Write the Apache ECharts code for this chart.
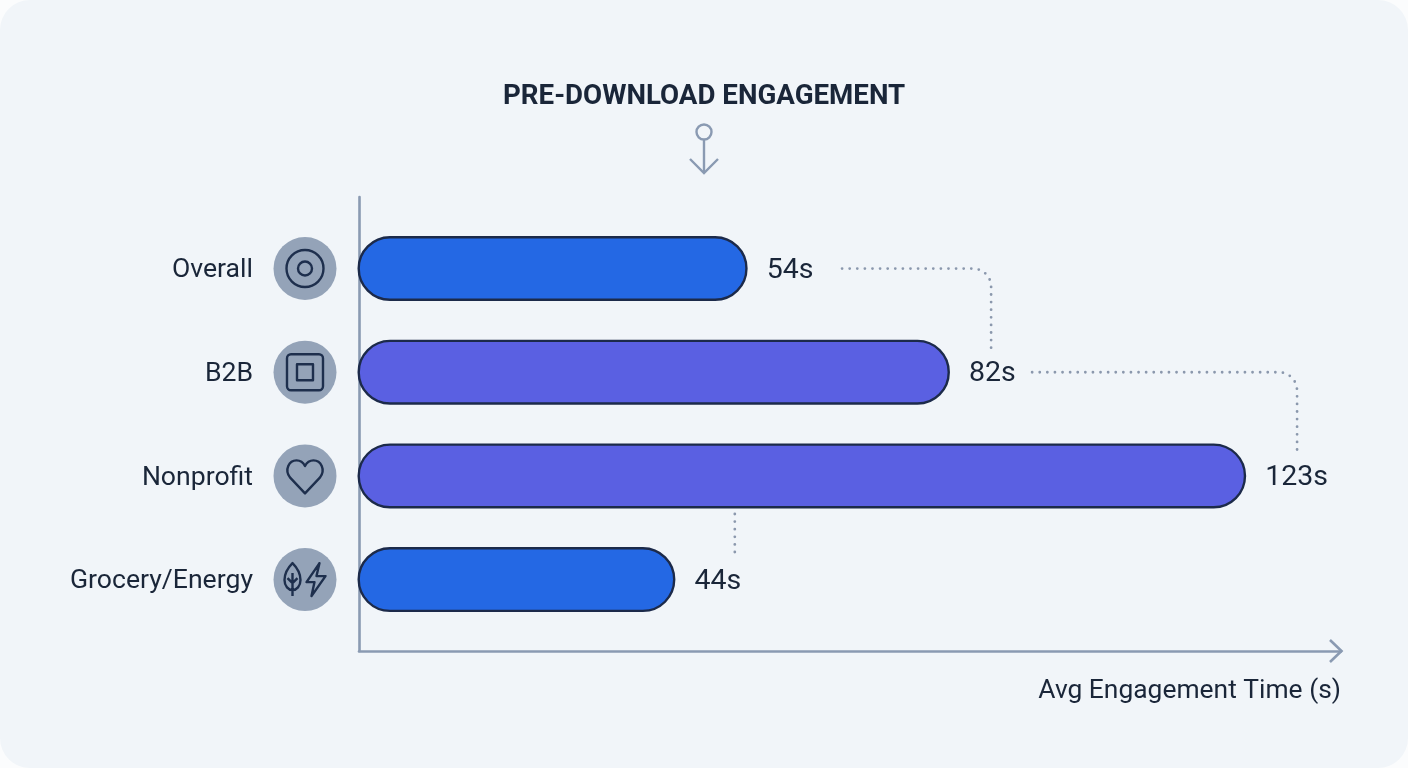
<!DOCTYPE html>
<html>
<head>
<meta charset="utf-8">
<style>
  html, body { margin: 0; padding: 0; width: 100%; height: 100%; background: #fbfcfd; overflow: hidden; }
  #panel { position: absolute; left: 0; top: 0; width: 1408px; height: 768px; background: #f1f5f9; border-radius: 30px; }
  #chart { width: 1408px; height: 768px; }
</style>
<script src="https://cdn.jsdelivr.net/npm/echarts@6/dist/echarts.min.js"></script>
</head>
<body>
<div id="panel"><div id="chart"></div></div>
<script>
const categories = ['Overall', 'B2B', 'Nonprofit', 'Grocery/Energy']
const values = [54, 82, 123, 44]
const barColors = ['#2468e4', '#5a60e2', '#5a60e2', '#2468e4']
const iconNames = ['target', 'square', 'heart', 'leafBolt']

// dotted connectors, x in seconds, y in rows (0 = centre of first bar)
const connectorX = [[67.1, 87.8, 87.8], [93.5, 130.3, 130.3], [52.2, 52.2]]
const connectorY = [[0, 0, 0.82], [1, 1, 1.79], [2.367, 2.8]]

const xMax = 136.4
const ink = '#1a2639'
const iconInk = '#1e2f4d'
const axisGrey = '#8a9ab2'
const font = 'Roboto'

// icon outlines, scaled into the box given in iconBoxes
const iconPaths = {
  square: 'M6 2H34A4 4 0 0 1 38 6V34A4 4 0 0 1 34 38H6A4 4 0 0 1 2 34V6A4 4 0 0 1 6 2ZM12 12H28V28H12Z',
  heart: 'M20 38L4 21C-2 13 3 3 11 3C15 3 18 5 20 9C22 5 25 3 29 3C37 3 42 13 36 21Z',
  leafBolt: 'M8 0C2 6 0 11 0 17C0 23 4 27 8 27C12 27 16 23 16 17C16 11 14 6 8 0ZM8 10V33M8 20L3 15M8 20L13 15M35 0L22 19H30L27 33L41 13H32Z'
}
const iconBoxes = { square: [36, 36, 0], heart: [37, 33, 1], leafBolt: [41, 33, 0] }

function renderBadge(params, api) {
  const c = api.coord([0, api.value(0)])
  const cx = c[0] - 52.5
  const name = iconNames[api.value(0)]
  const lineStyle = { fill: 'none', stroke: iconInk, lineWidth: 2.4, lineJoin: 'round' }
  const children = [{ type: 'circle', shape: { cx, cy: c[1], r: 31.5 }, style: { fill: '#94a3b8' } }]
  if (name === 'target') {
    children.push({ type: 'circle', shape: { cx, cy: c[1], r: 18.5 }, style: lineStyle })
    children.push({ type: 'circle', shape: { cx, cy: c[1], r: 7 }, style: lineStyle })
  } else {
    const box = iconBoxes[name]
    children.push({
      type: 'path',
      shape: { pathData: iconPaths[name], x: cx - box[0] / 2, y: c[1] - box[1] / 2 + box[2], width: box[0], height: box[1] },
      style: lineStyle
    })
  }
  return { type: 'group', children }
}

function renderConnector(params, api) {
  const i = api.value(0)
  const pts = connectorX[i].map((x, k) => api.coord([x, connectorY[i][k]]))
  let points = pts
  if (pts.length === 3) {
    // round off the corner
    const r = 18, a = pts[0], b = pts[1], c = pts[2]
    points = [a]
    for (let t = 0; t <= 1.001; t += 0.125) {
      const ang = t * Math.PI / 2
      points.push([b[0] - r + r * Math.sin(ang), b[1] + r - r * Math.cos(ang)])
    }
    points.push(c)
  }
  return {
    type: 'polyline',
    shape: { points },
    style: { fill: 'none', stroke: '#8b98ad', lineWidth: 2.8, lineCap: 'round', lineDash: [0, 7.6] }
  }
}

const chart = echarts.init(document.getElementById('chart'))
chart.setOption({
  animation: false,
  backgroundColor: 'transparent',
  title: {
    text: 'PRE-DOWNLOAD ENGAGEMENT',
    left: 498,
    top: 78,
    textStyle: { fontFamily: font, fontSize: 27.7, fontWeight: 700, color: ink }
  },
  grid: [
    { left: 359, top: 197, width: 982, height: 454 },
    { left: 357.5, top: 216.65, width: 985.5, height: 414.8 }
  ],
  xAxis: [
    {
      type: 'value', gridIndex: 0, min: 0, max: xMax,
      axisLine: { show: true, onZero: false, lineStyle: { color: axisGrey, width: 2.6 } },
      axisTick: { show: false }, axisLabel: { show: false }, splitLine: { show: false },
      name: 'Avg Engagement Time (s)',
      nameLocation: 'end',
      nameGap: 0,
      nameTextStyle: { fontFamily: font, fontSize: 26.4, color: ink, align: 'right', verticalAlign: 'top', padding: [27, 0, 0, 0] }
    },
    { type: 'value', gridIndex: 1, min: 0, max: xMax, show: false }
  ],
  yAxis: [
    {
      type: 'value', gridIndex: 0, inverse: true, min: -0.69, max: 3.688,
      axisLine: { show: true, onZero: false, lineStyle: { color: axisGrey, width: 2.6 } },
      axisTick: { show: false }, axisLabel: { show: false }, splitLine: { show: false }
    },
    {
      type: 'category', gridIndex: 1, inverse: true, data: categories,
      axisLine: { show: false }, axisTick: { show: false },
      // thin line box hung from the band centre nudges the text down a little
      axisLabel: { margin: 104.5, fontFamily: font, fontSize: 26.6, color: ink, verticalAlign: 'top', lineHeight: 4 }
    }
  ],
  graphic: [
    { type: 'circle', shape: { cx: 704, cy: 132, r: 7.5 }, style: { fill: 'none', stroke: axisGrey, lineWidth: 2.4 } },
    { type: 'polyline', shape: { points: [[704, 140], [704, 173]] }, style: { fill: 'none', stroke: axisGrey, lineWidth: 2.4 } },
    { type: 'polyline', shape: { points: [[690, 159], [704, 173], [718, 159]] }, style: { fill: 'none', stroke: axisGrey, lineWidth: 2.4 } },
    { type: 'polyline', shape: { points: [[1330, 640], [1341.5, 651], [1330, 662]] }, style: { fill: 'none', stroke: axisGrey, lineWidth: 2.6 } }
  ],
  series: [
    {
      type: 'custom', xAxisIndex: 0, yAxisIndex: 0, silent: true,
      renderItem: renderConnector,
      data: connectorX.map((d, i) => [i]),
      encode: { x: -1, y: -1 },
      clip: false, z: 1
    },
    {
      type: 'bar', xAxisIndex: 1, yAxisIndex: 1,
      barWidth: 65,
      z: 2,
      data: values.map((v, i) => ({
        value: v,
        itemStyle: { color: barColors[i] }
      })),
      itemStyle: { borderColor: '#1c2a4a', borderWidth: 2.4, borderRadius: 33 },
      label: {
        show: true, position: 'right', distance: 19, offset: [0, 2],
        formatter: p => p.value + 's',
        fontFamily: font, fontSize: 28.5, color: ink
      }
    },
    {
      type: 'custom', xAxisIndex: 1, yAxisIndex: 1, silent: true,
      renderItem: renderBadge,
      data: categories.map((d, i) => [i]),
      encode: { x: -1, y: 0 },
      clip: false, z: 3
    }
  ]
})
</script>
</body>
</html>
